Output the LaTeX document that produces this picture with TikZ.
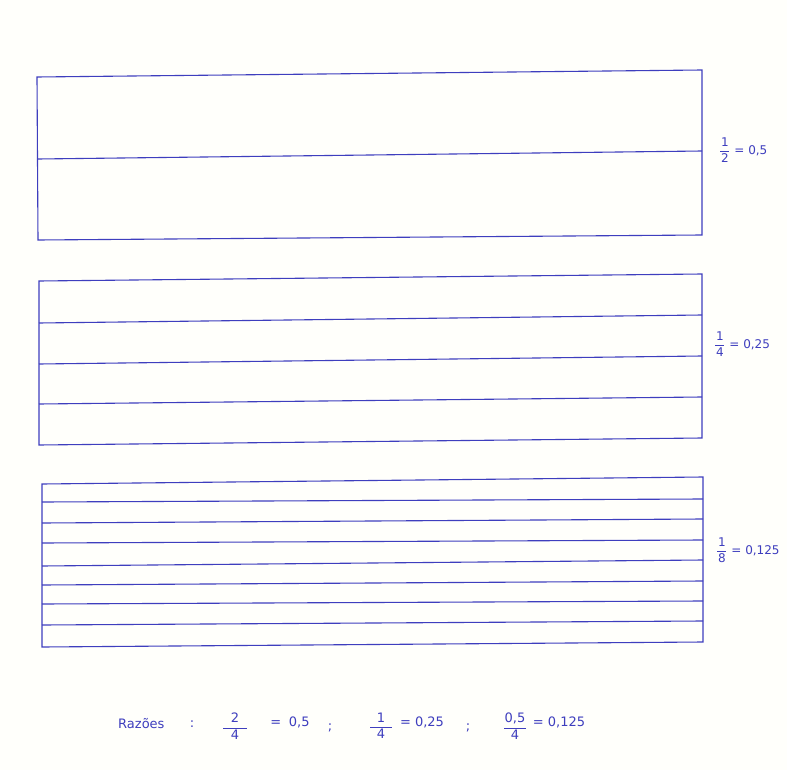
\documentclass[tikz,border=0pt]{standalone}
\usepackage{fontspec}
\setmainfont{DejaVu Sans}
\definecolor{ink}{RGB}{62,62,190}
\definecolor{paper}{RGB}{255,255,251}
\newcommand{\wfrac}[3]{\displaystyle\frac{\makebox[#1]{#2}}{\makebox[#1]{#3}}}
\tikzset{
  box/.style={draw=ink, line width=1.1pt},
  rule/.style={draw=ink, line width=1.1pt},
  lab/.style={text=ink, font=\fontsize{12}{14}\selectfont, inner sep=0pt, anchor=west},
  blab/.style={text=ink, font=\fontsize{13}{15}\selectfont, inner sep=0pt},
}
\begin{document}
\begin{tikzpicture}[x=1pt,y=-1pt]
\fill[paper] (0,0) rectangle (787,770);
\useasboundingbox (0,0) rectangle (787,770);
% rectangle 1
\draw[box] (37,77) -- (702,70) -- (702,235) -- (38,240) -- cycle;
\draw[rule] (38,159) -- (702,151);
% rectangle 2
\draw[box] (39,281) -- (702,274) -- (702,438) -- (39,445) -- cycle;
\draw[rule] (39,323) -- (702,315);
\draw[rule] (39,364) -- (702,356);
\draw[rule] (39,404) -- (702,397);
% rectangle 3
\draw[box] (42,484) -- (703,477) -- (703,642) -- (42,647) -- cycle;
\draw[rule] (42,502) -- (703,499);
\draw[rule] (42,523) -- (703,519);
\draw[rule] (42,543) -- (703,540);
\draw[rule] (42,566) -- (703,560);
\draw[rule] (42,585) -- (703,581);
\draw[rule] (42,604) -- (703,601);
\draw[rule] (42,625) -- (703,621);
% side labels
\node[lab] (l1) at (719,150) {$\wfrac{9pt}{1}{2}$ = 0,5};
\node[lab] (l2) at (714,344) {$\wfrac{9pt}{1}{4}$ = 0,25};
\node[lab] (l3) at (716,550) {$\wfrac{9pt}{1}{8}$ = 0,125};
% bottom line
\node[blab, anchor=west] (r) at (118,724) {Razões};
\node[blab] (c1) at (192,724) {:};
\node[blab] (f1) at (235,726) {$\wfrac{24pt}{2}{4}$};
\node[blab] (e1) at (290,722) {=\; 0,5};
\node[blab] (s1) at (330,728) {;};
\node[blab] (f2) at (381,726) {$\wfrac{22pt}{1}{4}$};
\node[blab] (e2) at (422,722) {= 0,25};
\node[blab] (s2) at (468,728) {;};
\node[blab] (f3) at (515,726) {$\wfrac{22pt}{0{,}5}{4}$};
\node[blab] (e3) at (559,722) {= 0,125};
\end{tikzpicture}
\end{document}
